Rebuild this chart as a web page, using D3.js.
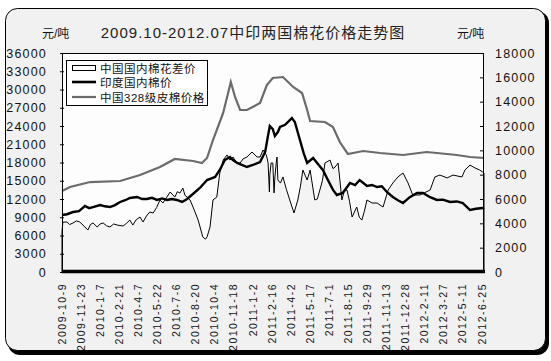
<!DOCTYPE html>
<html><head><meta charset="utf-8">
<script src="https://cdn.jsdelivr.net/npm/d3@7"></script>
<style>
html,body{margin:0;padding:0;background:#fff;}
svg{display:block;font-family:"Liberation Sans","Noto Sans CJK SC",sans-serif;}
</style></head>
<body><svg id="c" width="551" height="361"></svg>
<script>
const titleText = "2009.10-2012.07中印两国棉花价格走势图";
const unitText = "元/吨";
const legendNames = ["中国国内棉花差价", "印度国内棉价", "中国328级皮棉价格"];
const leftTicks = [0,3000,6000,9000,12000,15000,18000,21000,24000,27000,30000,33000,36000];
const rightTicks = [0,2000,4000,6000,8000,10000,12000,14000,16000,18000];
const xLabels = ["2009-10-9","2009-11-23","2010-1-7","2010-2-21","2010-4-7","2010-5-22","2010-7-6","2010-8-20","2010-10-4","2010-11-18","2011-1-2","2011-2-16","2011-4-2","2011-5-17","2011-7-1","2011-8-15","2011-9-29","2011-11-13","2011-12-28","2012-2-11","2012-3-27","2012-5-11","2012-6-25"];

// 中国国内棉花差价 (right axis)
const diffDates = ["2009-10-09","2009-10-11","2009-10-21","2009-10-27","2009-11-04","2009-11-12","2009-11-20","2009-12-02","2009-12-09","2009-12-15","2009-12-21","2009-12-31","2010-01-07","2010-01-14","2010-01-22","2010-01-30","2010-02-08","2010-02-16","2010-03-02","2010-03-10","2010-03-18","2010-03-25","2010-04-02","2010-04-11","2010-04-18","2010-04-26","2010-05-04","2010-05-12","2010-05-20","2010-05-28","2010-06-04","2010-06-12","2010-06-21","2010-07-02","2010-07-08","2010-07-14","2010-07-21","2010-07-26","2010-07-31","2010-08-07","2010-08-14","2010-08-26","2010-09-06","2010-09-12","2010-09-16","2010-09-23","2010-09-30","2010-10-09","2010-10-16","2010-10-24","2010-11-02","2010-11-09","2010-11-16","2010-11-25","2010-12-03","2010-12-10","2010-12-19","2010-12-31","2011-01-12","2011-01-19","2011-01-26","2011-02-03","2011-02-07","2011-02-10","2011-02-11","2011-02-14","2011-02-18","2011-02-21","2011-02-23","2011-02-26","2011-02-28","2011-03-02","2011-03-08","2011-03-14","2011-03-22","2011-03-30","2011-04-09","2011-04-18","2011-04-24","2011-04-30","2011-05-10","2011-05-17","2011-05-28","2011-06-03","2011-06-09","2011-06-15","2011-06-21","2011-07-03","2011-07-10","2011-07-15","2011-07-22","2011-07-31","2011-08-06","2011-08-12","2011-08-18","2011-08-24","2011-09-04","2011-09-10","2011-09-16","2011-09-22","2011-09-28","2011-10-10","2011-10-22","2011-11-05","2011-11-17","2011-11-28","2011-12-10","2011-12-22","2012-01-03","2012-01-14","2012-01-31","2012-02-24","2012-03-06","2012-03-18","2012-04-04","2012-04-18","2012-05-09","2012-05-16","2012-05-28","2012-06-09","2012-06-20","2012-06-30"];
const diffValues = [3300,4100,4110,3900,4030,4200,4110,3700,3450,3900,4030,3700,3950,4030,3800,3700,3950,3860,3780,4000,4270,3860,4300,4520,4110,4600,4930,4850,5300,5920,5670,6100,6575,6160,6600,6490,6900,6300,6160,5920,5340,4270,2880,2700,2880,3700,5920,6160,8140,9200,9620,9200,9450,9000,8960,9300,9450,9860,9450,9450,10030,9600,8960,6575,8000,8960,8960,6500,7810,8960,9450,7560,7310,7810,6800,5920,4850,5920,7000,8380,7560,8380,5920,6000,6740,7500,8960,9200,8500,8630,8960,5920,6740,6740,5800,4520,5340,4500,4270,5000,5920,5670,5670,5340,6740,7310,7810,8140,7310,6330,6330,6740,7810,7970,7730,7970,7810,8380,8790,8550,8380,8140];

// 印度国内棉价 (left axis)
const indiaDates = ["2009-10-09","2009-10-21","2009-11-04","2009-11-18","2009-12-02","2009-12-12","2009-12-21","2010-01-07","2010-01-18","2010-01-30","2010-02-11","2010-02-23","2010-03-07","2010-03-18","2010-04-04","2010-04-16","2010-04-27","2010-05-09","2010-05-21","2010-06-02","2010-06-14","2010-06-25","2010-07-07","2010-07-19","2010-07-31","2010-08-11","2010-08-30","2010-09-16","2010-10-05","2010-10-16","2010-10-28","2010-11-09","2010-11-16","2010-11-26","2010-12-07","2010-12-19","2011-01-02","2011-01-19","2011-01-31","2011-02-07","2011-02-11","2011-02-18","2011-02-23","2011-03-02","2011-03-07","2011-03-19","2011-04-04","2011-04-11","2011-04-23","2011-05-02","2011-05-10","2011-05-24","2011-06-04","2011-06-16","2011-06-28","2011-07-10","2011-07-19","2011-08-02","2011-08-19","2011-08-31","2011-09-11","2011-09-28","2011-10-10","2011-10-22","2011-11-02","2011-11-14","2011-11-28","2011-12-10","2011-12-22","2012-01-07","2012-01-24","2012-02-07","2012-02-24","2012-03-11","2012-03-25","2012-04-11","2012-04-27","2012-05-11","2012-05-28","2012-06-11","2012-06-27","2012-06-30"];
const indiaValues = [9370,9500,9860,10000,10850,10500,10680,11010,10800,10680,11000,11510,11800,12160,12330,12000,12000,12200,11840,12100,11840,12000,11840,11510,12000,12660,13810,15120,15620,16770,18410,18900,18400,17920,17600,17260,17590,18080,19730,22500,24000,23500,22360,23000,23840,24200,25310,24660,21700,19500,17920,18740,17800,16770,15120,13500,12660,12990,14630,14300,15120,14140,14300,13970,14100,13150,12330,11800,11340,12300,12990,12990,12300,11840,11900,11510,11600,11340,10190,10400,10520,10600];

// 中国328级皮棉价格 (left axis)
const chinaDates = ["2009-10-09","2009-10-28","2009-12-14","2010-02-23","2010-04-11","2010-05-28","2010-07-02","2010-08-14","2010-09-04","2010-09-16","2010-09-30","2010-10-24","2010-11-11","2010-11-21","2010-12-03","2010-12-19","2011-01-19","2011-02-04","2011-02-18","2011-03-14","2011-04-07","2011-04-28","2011-05-10","2011-05-17","2011-06-21","2011-07-10","2011-07-26","2011-08-14","2011-09-19","2011-10-29","2011-12-22","2012-02-16","2012-04-27","2012-05-28","2012-06-30"];
const chinaValues = [13315,13970,14790,14960,15950,17260,18575,18250,17920,18740,21700,26140,31230,28770,26630,26630,27780,30740,31890,32050,30410,29420,26630,24820,24660,23830,21370,19400,19890,19560,19230,19725,19230,18900,18740];

const parse = d3.timeParse("%Y-%m-%d");
const svg = d3.select("#c");

// frame with shadow
svg.append("rect").attr("x",8).attr("y",11).attr("width",541).attr("height",344).attr("rx",12).attr("fill","#000");
svg.append("rect").attr("x",5.5).attr("y",8.5).attr("width",540).attr("height",342).attr("rx",12)
  .attr("fill","#f1f1f1").attr("stroke","#000").attr("stroke-width",1);

const L=62, R=484, T=53, B=272;
const x = d3.scaleTime().domain([parse("2009-10-09"), parse("2012-06-30")]).range([L,R]);
const yL = d3.scaleLinear().domain([0,36000]).range([B,T]);
const yR = d3.scaleLinear().domain([0,18000]).range([B,T]);

svg.append("rect").attr("x",L).attr("y",T).attr("width",R-L).attr("height",B-T).attr("fill","#fdfdfd");

const diff = diffDates.map((d,i)=>({d:parse(d),v:diffValues[i]}));
const india = indiaDates.map((d,i)=>({d:parse(d),v:indiaValues[i]}));
const china = chinaDates.map((d,i)=>({d:parse(d),v:chinaValues[i]}));

svg.append("path").datum(diff)
  .attr("d", d3.area().x(p=>x(p.d)).y0(B).y1(p=>yR(p.v)))
  .attr("fill","#f4f4f4").attr("stroke","#000").attr("stroke-width",1).attr("stroke-linejoin","miter");

svg.append("path").datum(china)
  .attr("d", d3.line().x(p=>x(p.d)).y(p=>yL(p.v)))
  .attr("fill","none").attr("stroke","#6b6b6b").attr("stroke-width",2.2);

svg.append("path").datum(india)
  .attr("d", d3.line().x(p=>x(p.d)).y(p=>yL(p.v)))
  .attr("fill","none").attr("stroke","#000").attr("stroke-width",2.4);

// plot border
svg.append("rect").attr("x",L+0.5).attr("y",T+0.5).attr("width",R-L-1).attr("height",B-T-1)
  .attr("fill","none").attr("stroke","#000").attr("stroke-width",1);

// axes
const axL = svg.append("g").attr("transform",`translate(${L},0)`)
  .call(d3.axisLeft(yL).tickValues(leftTicks).tickSize(2).tickSizeOuter(0).tickFormat(d3.format("d")));
axL.select(".domain").remove();
axL.selectAll(".tick line").attr("x2",-2).attr("x1",2).attr("stroke","#000");
axL.selectAll(".tick text").attr("x",-15).attr("font-size",12.5).attr("letter-spacing",1.2)
  .attr("font-family","Liberation Sans").attr("fill","#111");

const axR = svg.append("g").attr("transform",`translate(${R},0)`)
  .call(d3.axisRight(yR).tickValues(rightTicks).tickSize(0).tickFormat(d3.format("d")));
axR.select(".domain").remove();
axR.selectAll(".tick line").attr("x1",-4).attr("x2",0).attr("stroke","#000");
axR.selectAll(".tick text").attr("x",11).attr("font-size",12.5).attr("letter-spacing",1.2)
  .attr("font-family","Liberation Sans").attr("fill","#111");

// thick bottom axis line
svg.append("line").attr("x1",L).attr("x2",R+1).attr("y1",B-0.5).attr("y2",B-0.5)
  .attr("stroke","#000").attr("stroke-width",3.5);

// x labels
const labelDates = xLabels.map(s=>{const [y,m,d]=s.split("-").map(Number); return new Date(y,m-1,d);});
svg.append("g").selectAll("text").data(xLabels).join("text")
  .attr("transform",(s,i)=>`translate(${x(labelDates[i])},283) rotate(-90)`)
  .attr("text-anchor","end").attr("dy","0.35em")
  .attr("font-size",10.5).attr("letter-spacing",1.5).attr("fill","#111")
  .text(s=>s);

// title & units
svg.append("text").attr("x",253).attr("y",38).attr("text-anchor","middle")
  .attr("font-size",15).attr("letter-spacing",1).attr("fill","#222").text(titleText);
svg.append("text").attr("x",42).attr("y",38).attr("font-size",12).attr("fill","#111").text(unitText);
svg.append("text").attr("x",457).attr("y",38).attr("font-size",12).attr("fill","#111").text(unitText);

// legend
const lg = svg.append("g");
lg.append("rect").attr("x",66.5).attr("y",60.5).attr("width",141).attr("height",45)
  .attr("fill","#fff").attr("stroke","#000").attr("stroke-width",1);
const rows=[68,82,97];
lg.append("rect").attr("x",72.5).attr("y",rows[0]-2.5).attr("width",23).attr("height",5)
  .attr("fill","#fff").attr("stroke","#000");
lg.append("line").attr("x1",72).attr("x2",96).attr("y1",rows[1]).attr("y2",rows[1]).attr("stroke","#000").attr("stroke-width",2.6);
lg.append("line").attr("x1",72).attr("x2",96).attr("y1",rows[2]).attr("y2",rows[2]).attr("stroke","#6b6b6b").attr("stroke-width",2.2);
lg.selectAll("text.l").data(legendNames).join("text").attr("class","l")
  .attr("x",100).attr("y",(d,i)=>rows[i]+4.5).attr("font-size",11.5).attr("letter-spacing",0.5)
  .attr("fill","#111").text(d=>d);
</script></body></html>
